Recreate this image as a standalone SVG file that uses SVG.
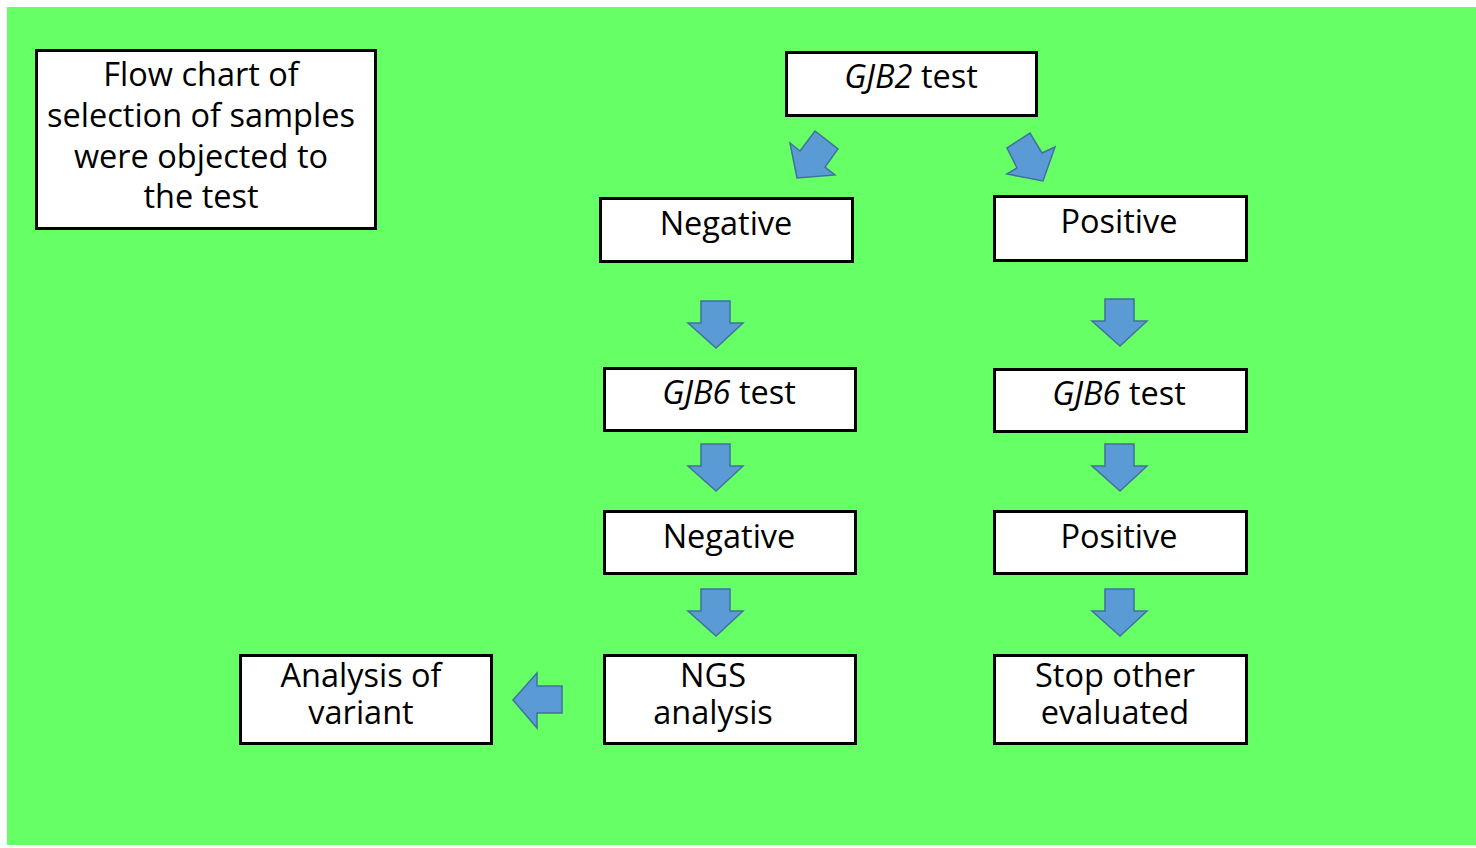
<svg xmlns="http://www.w3.org/2000/svg" width="1476" height="848" viewBox="0 0 1476 848">
<style>
.box{fill:#ffffff;stroke:#000000;stroke-width:3}
.t{font-family:"Open Sans","Noto Sans","Liberation Sans",sans-serif;font-size:32.5px;fill:#000000;text-anchor:middle}
.arr{fill:#5B9BD5;stroke:#41719C;stroke-width:1.5;stroke-linejoin:miter}
</style>
<rect x="0" y="0" width="1476" height="848" fill="#ffffff"/>
<rect x="7" y="7" width="1469" height="838" fill="#66FF66"/>
<g id="title">
<rect class="box" x="36.5" y="50.5" width="339" height="178"/>
<text class="t" x="201" y="86"><tspan x="201" y="86">Flow chart of</tspan><tspan x="201" y="127">selection of samples</tspan><tspan x="201" y="168">were objected to</tspan><tspan x="201" y="208">the test</tspan></text>
</g>
<g id="gjb2">
<rect class="box" x="786.5" y="52.5" width="250" height="63"/>
<text class="t" x="911" y="88"><tspan font-style="italic">GJB2</tspan> test</text>
</g>
<g id="neg1">
<rect class="box" x="600.5" y="198.5" width="252" height="63"/>
<text class="t" x="726" y="235">Negative</text>
</g>
<g id="pos1">
<rect class="box" x="994.5" y="196.5" width="252" height="64"/>
<text class="t" x="1119" y="233">Positive</text>
</g>
<g id="gjb6l">
<rect class="box" x="604.5" y="368.5" width="251" height="62"/>
<text class="t" x="729" y="404"><tspan font-style="italic">GJB6</tspan> test</text>
</g>
<g id="gjb6r">
<rect class="box" x="994.5" y="369.5" width="252" height="62"/>
<text class="t" x="1119" y="405"><tspan font-style="italic">GJB6</tspan> test</text>
</g>
<g id="neg2">
<rect class="box" x="604.5" y="511.5" width="251" height="62"/>
<text class="t" x="729" y="548">Negative</text>
</g>
<g id="pos2">
<rect class="box" x="994.5" y="511.5" width="252" height="62"/>
<text class="t" x="1119" y="548">Positive</text>
</g>
<g id="ngs">
<rect class="box" x="604.5" y="655.5" width="251" height="88"/>
<text class="t" x="713" y="687"><tspan x="713" y="687">NGS</tspan><tspan x="713" y="724">analysis</tspan></text>
</g>
<g id="stop">
<rect class="box" x="994.5" y="655.5" width="252" height="88"/>
<text class="t" x="1115" y="687"><tspan x="1115" y="687">Stop other</tspan><tspan x="1115" y="724">evaluated</tspan></text>
</g>
<g id="analysis">
<rect class="box" x="240.5" y="655.5" width="251" height="88"/>
<text class="t" x="361" y="687"><tspan x="361" y="687">Analysis of</tspan><tspan x="361" y="724">variant</tspan></text>
</g>
<g id="connectors">
<polygon class="arr" points="790,143 800,151 815,131 838,149 825,167 835,175 797,178"/>
<polygon class="arr" points="1007,148 1030,133 1042,153 1055,147 1043,181 1007,174 1017,168"/>
<polygon class="arr" points="701,301 730,301 730,323 743,323 716,348 688,323 701,323"/>
<polygon class="arr" points="701,444 730,444 730,466 743,466 716,491 688,466 701,466"/>
<polygon class="arr" points="701,589 730,589 730,611 743,611 716,636 688,611 701,611"/>
<polygon class="arr" points="1105,299 1134,299 1134,321 1147,321 1120,346 1092,321 1105,321"/>
<polygon class="arr" points="1105,444 1134,444 1134,466 1147,466 1120,491 1092,466 1105,466"/>
<polygon class="arr" points="1105,589 1134,589 1134,611 1147,611 1120,636 1092,611 1105,611"/>
<polygon class="arr" points="562,686 562,713 537,713 537,728 513,700 537,673 537,686"/>
</g>
</svg>
